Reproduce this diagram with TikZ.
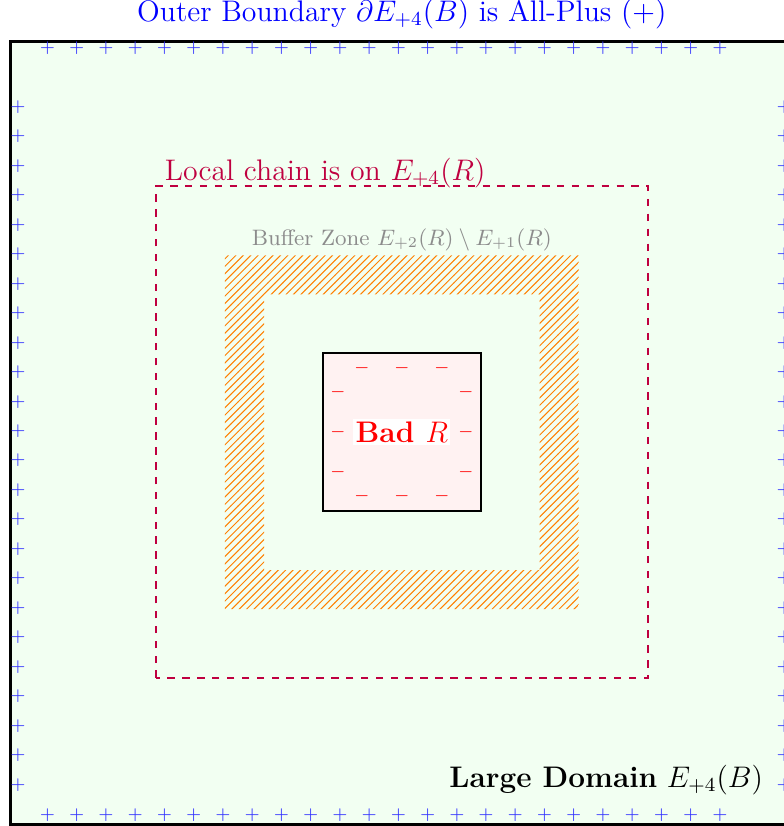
\documentclass[tikz,border=0pt]{standalone}
\usepackage{amsmath,amssymb}
\usepackage{xcolor}
\usepackage{tikz}
\usetikzlibrary{patterns}

\begin{document}
\begin{tikzpicture}[
			scale=1.036,
			% Boundary spins
			plusSign/.style={
				text=blue!80,
				font=\scriptsize,
				inner sep=0pt
			},
			minusSign/.style={
				text=red,
				font=\scriptsize,
				inner sep=0pt
			},
			% Regions
			domainFrame/.style={
				draw=black,
				very thick,
				fill=green!5
			},
			chainBox/.style={
				draw=purple,
				thick,
				dashed
			},
			bufferZone/.style={
				pattern=north east lines,
				pattern color=orange,
				even odd rule
			},
			badBox/.style={
				draw=black,
				thick,
				fill=red!5
			},
			labelbox/.style={
				align=center
			}
			]
			
			\useasboundingbox (-0.137,-0.027) rectangle (10.588,11.273);
			
			% Large domain E_{+4}(B)
			\draw[domainFrame] (0,0) rectangle (10.71,10.71);
			
			% All-plus outer boundary
			\foreach \k in {0,...,23}{
				\node[plusSign] (plusTop\k)    at (0.513+0.4*\k,10.61) {$+$};
				\node[plusSign] (plusBottom\k) at (0.513+0.4*\k,0.123) {$+$};
				\node[plusSign] (plusLeft\k)   at (0.109,0.535+0.4033*\k) {$+$};
				\node[plusSign] (plusRight\k)  at (10.59,0.535+0.4033*\k) {$+$};
			}
			
			% Local chain region E_{+4}(R)
			\draw[chainBox] (2.0,2.0) rectangle (8.73,8.73);
			
			% Buffer zone E_{+2}(R) minus E_{+1}(R)
			\fill[bufferZone]
			(2.94,2.94) rectangle (7.78,7.78)
			(3.475,3.475) rectangle (7.245,7.245);
			
			% Bad region R
			\draw[badBox] (4.28,4.28) rectangle (6.44,6.44);
			
			% Minus spins inside R
			\foreach \k/\off in {0/-0.547,1/0,2/0.547}{
				\node[minusSign] (minusTop\k)    at (5.36+\off,6.235) {$-$};
				\node[minusSign] (minusBottom\k) at (5.36+\off,4.485) {$-$};
				\node[minusSign] (minusLeft\k)   at (4.485,5.36+\off) {$-$};
				\node[minusSign] (minusRight\k)  at (6.235,5.36+\off) {$-$};
			}
			
			\node[
			fill=white,
			inner sep=1pt,
			text=red,
			font=\large\bfseries
			] (badLabel) at (5.36,5.36)
			{Bad $R$};
			
			% Labels
			\node[
			labelbox,
			blue,
			font=\large,
			anchor=base
			] (titleLabel) at (5.36,10.98)
			{Outer Boundary $\partial E_{+4}(B)$ is All-Plus $(+)$};
			
			\node[
			labelbox,
			purple,
			font=\large,
			anchor=base west
			] (chainLabel) at (2.0,8.81)
			{Local chain is on $E_{+4}(R)$};
			
			\node[
			labelbox,
			black!45,
			font=\small,
			anchor=base
			] (bufferLabel) at (5.36,7.92)
			{Buffer Zone $E_{+2}(R) \setminus E_{+1}(R)$};
			
			\node[
			labelbox,
			font=\large,
			anchor=base east
			] (domainLabel) at (10.42,0.506)
			{\textbf{Large Domain} $E_{+4}(B)$};
			
		\end{tikzpicture}
\end{document}
